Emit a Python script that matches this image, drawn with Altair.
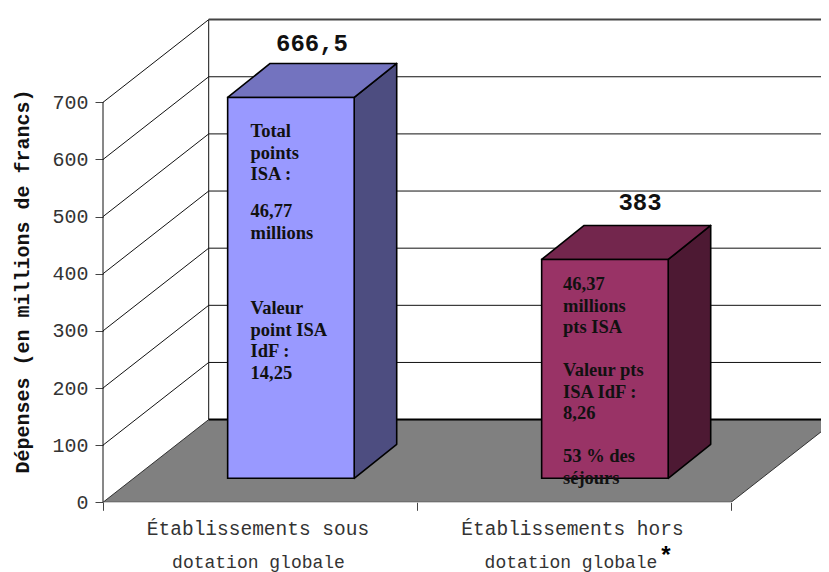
import altair as alt
import pandas as pd

# ---------- data ----------
category_line1 = ["Établissements sous", "Établissements hors"]
category_line2 = ["dotation globale", "dotation globale"]
values = [666.5, 383]
value_labels = ["666,5", "383"]
y_ticks = [0, 100, 200, 300, 400, 500, 600, 700]
y_title = "Dépenses (en millions de francs)"
notes_bar1 = ["Total\npoints\nISA :", "46,77\nmillions", "Valeur\npoint ISA\nIdF :\n14,25"]
notes_bar2 = ["46,37\nmillions\npts ISA", "Valeur pts\nISA IdF :\n8,26", "53 % des\nséjours"]
front_colors = ["#9999FF", "#993366"]
top_colors = ["#7373BF", "#73264D"]
side_colors = ["#4D4D80", "#4D1933"]

# ---------- projection of the fake 3-D box (1 x unit = one category) ----------
PX_X, PX_Y = 314.0, 0.5714
W, H = 718, 482.3
Y0 = 502.3
X_MAX, Y_MAX = W / PX_X, H / PX_Y
WALL_DX, WALL_DY = 105.7 / PX_X, 82.7 / PX_Y
BAR_DX, BAR_DY = 42.5 / PX_X, 34 / PX_Y
BAR_BASE = 24 / PX_Y
BAR_LEFT, BAR_RIGHT = 0.397, 0.80
px_x = lambda p: (p - 103) / PX_X
px_y = lambda p: (Y0 - p) / PX_Y

x_scale = alt.Scale(domain=[0, X_MAX], range=[0, W], nice=False, zero=False)
y_scale = alt.Scale(domain=[0, Y_MAX], range=[H, 0], nice=False, zero=False)
x_axis = alt.Axis(values=[0, 1, 2], labels=False, title=None, grid=False, domain=False,
                  tickSize=8, tickColor="#444444", tickWidth=1)
y_axis = alt.Axis(values=y_ticks, title=y_title, grid=False, domain=False, tickSize=8,
                  tickColor="#444444", tickWidth=1, labelFont="Liberation Mono", labelFontSize=20,
                  labelColor="#333333", labelPadding=7, titleFont="Liberation Mono", titleFontSize=20,
                  titleFontWeight="bold", titleColor="#111111", titleAngle=270, titleAlign="center",
                  titleBaseline="alphabetic", titleX=-75, titleY=261)
X = alt.X("x:Q", scale=x_scale, axis=x_axis)
Y = alt.Y("y:Q", scale=y_scale, axis=y_axis, title=y_title)

rules_thin = []
for v in y_ticks[1:-1]:
    rules_thin.append(dict(x=0, x2=WALL_DX, y=v, y2=v + WALL_DY))
    rules_thin.append(dict(x=WALL_DX, x2=X_MAX, y=v + WALL_DY, y2=v + WALL_DY))
rules_thin.append(dict(x=0, x2=WALL_DX, y=700, y2=700 + WALL_DY))
rules_thin.append(dict(x=0, x2=0, y=0, y2=700))
rules_thin.append(dict(x=WALL_DX, x2=WALL_DX, y=WALL_DY, y2=700 + WALL_DY))


def rule(rows, color, width):
    return alt.Chart(pd.DataFrame(rows)).mark_rule(color=color, strokeWidth=width).encode(
        x=X, x2="x2:Q", y=Y, y2="y2:Q")


grid = rule(rules_thin, "#111111", 1)
wall_top = rule([dict(x=WALL_DX, x2=X_MAX, y=700 + WALL_DY, y2=700 + WALL_DY)], "#444444", 2)

floor = alt.Chart(pd.DataFrame([
    dict(x=0, y=0, y2=0),
    dict(x=WALL_DX, y=WALL_DY, y2=0),
    dict(x=2, y=WALL_DY, y2=0),
    dict(x=2 + WALL_DX, y=WALL_DY, y2=WALL_DY),
])).mark_area(color="#808080", stroke="#333333", strokeWidth=1, clip=True, interpolate="linear").encode(
    x=X, y=Y, y2="y2:Q")
floor_back = rule([dict(x=WALL_DX, x2=X_MAX, y=WALL_DY, y2=WALL_DY)], "#000000", 2)

# bars
front_rows, face_rows = [], []
for i, v in enumerate(values):
    x0, x1 = i + BAR_LEFT, i + BAR_RIGHT
    lo, hi = BAR_BASE, BAR_BASE + v
    front_rows.append(dict(x=x0, x2=x1, y=lo, y2=hi, fill=front_colors[i]))
    face = f"side{i}"
    face_rows += [
        dict(face=face, fill=side_colors[i], x=x1, y=hi, y2=lo),
        dict(face=face, fill=side_colors[i], x=x1 + BAR_DX, y=hi + BAR_DY, y2=lo + BAR_DY),
    ]
    face = f"top{i}"
    face_rows += [
        dict(face=face, fill=top_colors[i], x=x0, y=hi, y2=hi),
        dict(face=face, fill=top_colors[i], x=x0 + BAR_DX, y=hi + BAR_DY, y2=hi),
        dict(face=face, fill=top_colors[i], x=x1, y=hi + BAR_DY, y2=hi),
        dict(face=face, fill=top_colors[i], x=x1 + BAR_DX, y=hi + BAR_DY, y2=hi + BAR_DY),
    ]

faces = alt.Chart(pd.DataFrame(face_rows)).mark_area(
    stroke="#000000", strokeWidth=1.6, interpolate="linear", strokeJoin="round").encode(
    x=X, y=Y, y2="y2:Q", detail="face:N", fill=alt.Fill("fill:N", scale=None))
fronts = alt.Chart(pd.DataFrame(front_rows)).mark_rect(stroke="#000000", strokeWidth=1.6).encode(
    x=X, x2="x2:Q", y=Y, y2="y2:Q", fill=alt.Fill("fill:N", scale=None))

# value labels above the bars
label_centres = [312, 640]
label_baselines = [51, 210]
labels = alt.Chart(pd.DataFrame({
    "x": [px_x(p) for p in label_centres],
    "y": [px_y(p) for p in label_baselines],
    "t": value_labels,
})).mark_text(font="Liberation Mono", fontSize=24, fontWeight="bold", color="#111111",
              align="center", baseline="alphabetic").encode(x=X, y=Y, text="t:N")

# notes inside the bars
note_rows = []
for left, blocks, starts in [(250.5, notes_bar1, [137, 217, 314]), (563, notes_bar2, [290, 376, 462])]:
    for block, start in zip(blocks, starts):
        note_rows.append(dict(x=px_x(left), y=px_y(start), t=block))
notes = alt.Chart(pd.DataFrame(note_rows)).mark_text(
    font="Liberation Serif", fontSize=18.5, fontWeight="bold", color="#111111", align="left",
    baseline="alphabetic", lineBreak="\n", lineHeight=21.5).encode(x=X, y=Y, text="t:N")

# category labels below the floor
cats1 = alt.Chart(pd.DataFrame({
    "x": [px_x(258), px_x(572.5)],
    "y": [px_y(535)] * 2,
    "t": category_line1,
})).mark_text(font="Liberation Mono", fontSize=19.5, color="#333333", align="center",
              baseline="alphabetic").encode(x=X, y=Y, text="t:N")
cats2 = alt.Chart(pd.DataFrame({
    "x": [px_x(258.5), px_x(571)],
    "y": [px_y(567.5)] * 2,
    "t": category_line2,
})).mark_text(font="Liberation Mono", fontSize=18, color="#333333", align="center",
              baseline="alphabetic").encode(x=X, y=Y, text="t:N")

star = alt.Chart(pd.DataFrame({"x": [px_x(666)], "y": [px_y(563)], "t": ["*"]})).mark_text(
    font="Liberation Sans", fontSize=24, fontWeight="bold", color="#000000", align="center",
    baseline="alphabetic").encode(x=X, y=Y, text="t:N")

chart = alt.layer(grid, wall_top, floor, floor_back, faces, fronts, labels, notes, cats1, cats2, star).properties(
    width=W, height=H,
    autosize=alt.AutoSizeParams(type="none"),
    padding={"left": 95, "top": 12, "right": 0, "bottom": 69.7},
    background="white",
).configure_view(stroke=None)

chart.save("out.html", embed_options={"renderer": "svg", "actions": False})
